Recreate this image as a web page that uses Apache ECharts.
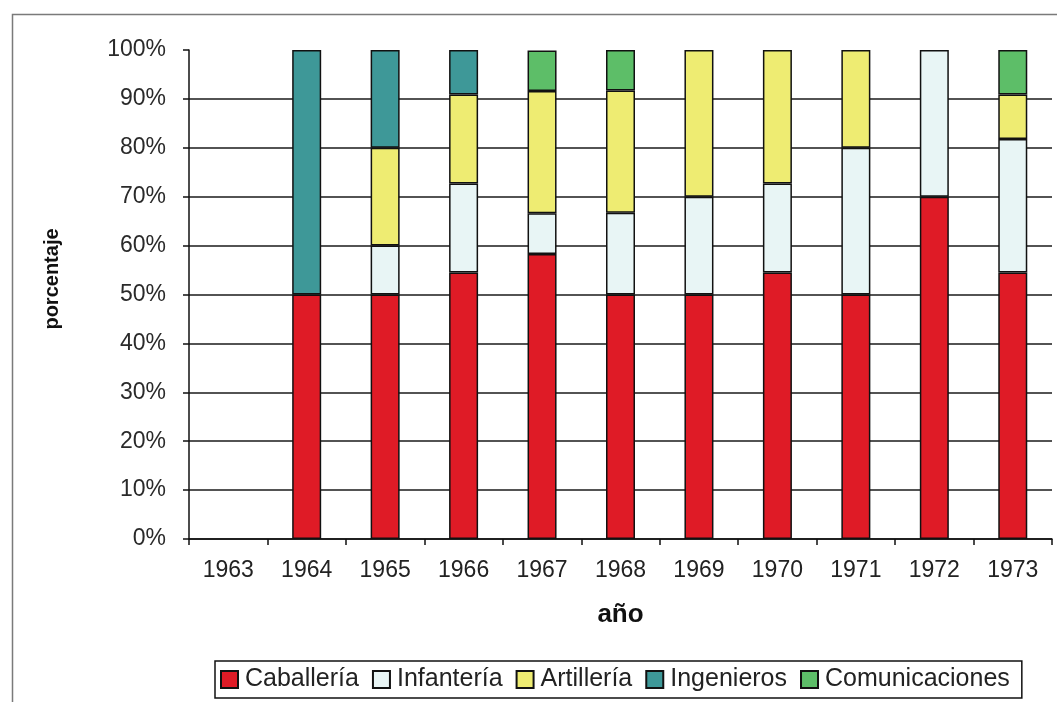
<!DOCTYPE html>
<html>
<head>
<meta charset="utf-8">
<script src="https://cdn.jsdelivr.net/npm/echarts@6/dist/echarts.min.js"></script>
<style>
html,body{margin:0;padding:0;background:#fff;}
#c{width:1057px;height:702px;}
</style>
</head>
<body>
<div id="c"></div>
<script>
const years = ['1963','1964','1965','1966','1967','1968','1969','1970','1971','1972','1973'];
const caballeria    = [null, 50, 50, 54.5, 58.3, 50, 50, 54.5, 50, 70, 54.5];
const infanteria    = [null, null, 10, 18.2, 8.3, 16.7, 20, 18.2, 30, 30, 27.3];
const artilleria    = [null, null, 20, 18.2, 25, 25, 30, 27.3, 20, null, 9.1];
const ingenieros    = [null, 50, 20, 9.1, null, null, null, null, null, null, null];
const comunicaciones= [null, null, null, null, 8.3, 8.3, null, null, null, null, 9.1];
const yTicks = [0,10,20,30,40,50,60,70,80,90,100];

const FONT = '"Liberation Sans", Arial, sans-serif';
const seriesDefs = [
  {name:'Caballería', data:caballeria, color:'#DF1B26'},
  {name:'Infantería', data:infanteria, color:'#E8F5F5'},
  {name:'Artillería', data:artilleria, color:'#EEEC72'},
  {name:'Ingenieros', data:ingenieros, color:'#3E9898'},
  {name:'Comunicaciones', data:comunicaciones, color:'#5DBE68'}
];

const chart = echarts.init(document.getElementById('c'), null, {renderer:'canvas'});
const gridColors = yTicks.map((v,i)=> i === yTicks.length-1 ? 'rgba(0,0,0,0)' : '#1a1a1a');

chart.setOption({
  animation:false,
  backgroundColor:'#fff',
  graphic:[{
    type:'rect', left:10, top:12, silent:true,
    shape:{width:1100, height:760},
    style:{fill:'none', stroke:'#7a7a7a', lineWidth:1.5}
  },{
    type:'text', x:52, y:279, rotation:Math.PI/2, silent:true,
    style:{text:'porcentaje', font:'bold 20px "Liberation Sans", Arial, sans-serif', fill:'#111', textAlign:'center', textVerticalAlign:'middle'}
  }],
  grid:{left:189, right:5, top:50, bottom:163},
  legend:{
    left:215, top:661,
    padding:[6,12,6,5],
    itemGap:13,
    itemWidth:17, itemHeight:17,
    borderColor:'#111', borderWidth:1.5,
    icon:'rect',
    textStyle:{fontFamily:FONT, fontSize:25, color:'#222', padding:[0,0,0,2]},
    data: seriesDefs.map(s=>s.name)
  },
  xAxis:{
    type:'category', data:years,
    name:'año', nameLocation:'middle', nameGap:63,
    nameTextStyle:{fontFamily:FONT, fontSize:26, fontWeight:'bold', color:'#111'},
    axisLine:{show:true, lineStyle:{color:'#111', width:1.5}},
    axisTick:{show:true, inside:false, length:6, interval:0, lineStyle:{color:'#111', width:1.5}},
    axisLabel:{fontFamily:FONT, fontSize:23, color:'#222', margin:20, interval:0},
    splitLine:{show:false}
  },
  yAxis:{
    type:'value', min:0, max:100, interval:10,
    axisLine:{show:true, lineStyle:{color:'#111', width:1.5}},
    axisTick:{show:true, inside:false, length:6, lineStyle:{color:'#111', width:1.5}},
    axisLabel:{fontFamily:FONT, fontSize:23, color:'#2a2a2a', margin:23, formatter:'{value}%'},
    splitLine:{show:true, lineStyle:{color:gridColors, width:1.6}}
  },
  series: seriesDefs.map(s=>({
    name:s.name, type:'bar', stack:'total', data:s.data,
    barWidth:29,
    itemStyle:{color:s.color, borderColor:'#111', borderWidth:1.5}
  }))
});
</script>
</body>
</html>
